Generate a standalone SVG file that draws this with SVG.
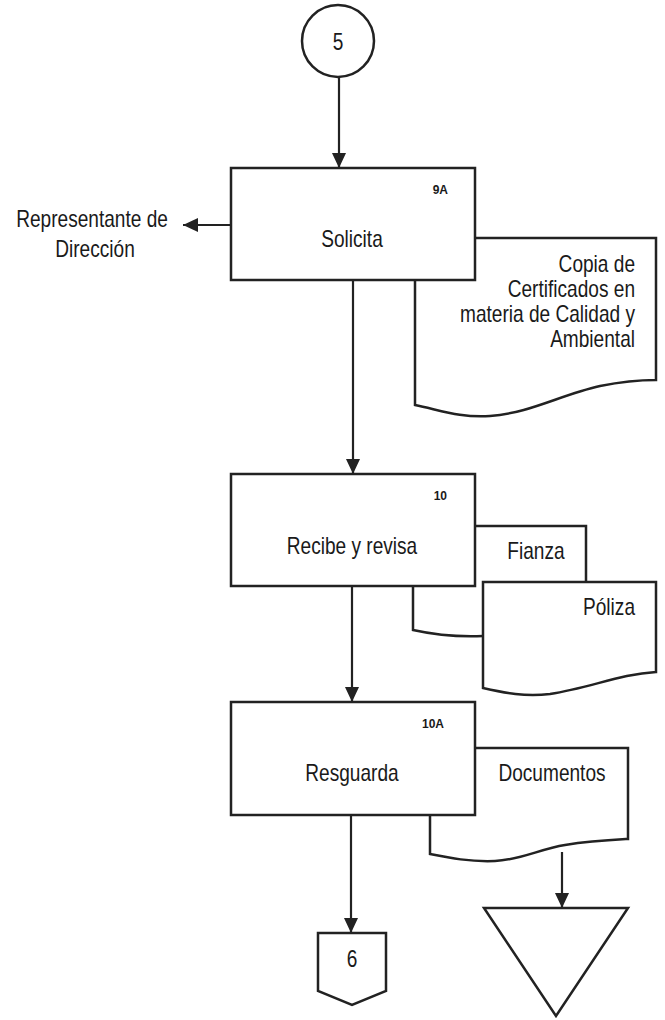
<svg xmlns="http://www.w3.org/2000/svg" width="665" height="1020" viewBox="0 0 665 1020">
<style>
.s{fill:#fff;stroke:#222;stroke-width:2.5;stroke-linejoin:miter}
.c{fill:none;stroke:#222;stroke-width:2.2}
.t{font-family:"Liberation Sans",Arial,sans-serif;font-size:23px;fill:#1a1a1a}
.n{font-family:"Liberation Sans",Arial,sans-serif;font-size:12px;font-weight:bold;fill:#1a1a1a}
</style>
<defs>
<marker id="ah" markerUnits="userSpaceOnUse" markerWidth="16" markerHeight="16" viewBox="0 0 16 16" refX="15" refY="8" orient="auto">
<path d="M0,1 L15,8 L0,15 Z" fill="#222"/>
</marker>
</defs>
<rect width="665" height="1020" fill="#fff"/>

<g id="connectors">
<line class="c" x1="339" y1="77" x2="339" y2="168" marker-end="url(#ah)"/>
<line class="c" x1="231" y1="225" x2="183" y2="225" marker-end="url(#ah)" stroke="#444"/>
<line class="c" x1="353" y1="280" x2="353" y2="474" marker-end="url(#ah)"/>
<line class="c" x1="352" y1="586" x2="352" y2="702" marker-end="url(#ah)"/>
<line class="c" x1="351" y1="815" x2="351" y2="933" marker-end="url(#ah)"/>
<line class="c" x1="562" y1="852" x2="562" y2="908" marker-end="url(#ah)"/>
</g>

<g id="start-5">
<circle class="s" cx="338" cy="41" r="36"/>
<text class="t" transform="translate(338 50) scale(0.83 1)" text-anchor="middle">5</text>
</g>

<g id="representante">
<text class="t" transform="translate(92 227) scale(0.83 1)" text-anchor="middle">Representante de</text>
<text class="t" transform="translate(95 257) scale(0.83 1)" text-anchor="middle">Dirección</text>
</g>

<g id="doc-copia">
<path class="s" d="M415,280 L415,405 C440,410 460,418 490,416 C530,413 560,395 600,386 C625,381 645,380 656,380 L656,238 L475,238"/>
<text class="t" transform="translate(635 272) scale(0.83 1)" text-anchor="end">Copia de</text>
<text class="t" transform="translate(635 297) scale(0.83 1)" text-anchor="end">Certificados en</text>
<text class="t" transform="translate(635 322) scale(0.83 1)" text-anchor="end">materia de Calidad y</text>
<text class="t" transform="translate(635 347) scale(0.83 1)" text-anchor="end">Ambiental</text>
</g>

<g id="step-9A">
<rect class="s" x="231" y="168" width="244" height="112"/>
<text class="n" x="448" y="194" text-anchor="end">9A</text>
<text class="t" transform="translate(352 247) scale(0.83 1)" text-anchor="middle">Solicita</text>
</g>

<g id="doc-fianza">
<path class="s" d="M413,586 L413,630 C440,636 460,637 483,636 L586,636 L586,526 L475,526"/>
<text class="t" transform="translate(536 559) scale(0.83 1)" text-anchor="middle">Fianza</text>
</g>

<g id="doc-poliza">
<path class="s" d="M483,582 L483,688 C505,693 525,697 550,694 C590,688 620,674 656,672 L656,582 Z"/>
<text class="t" transform="translate(635 615) scale(0.83 1)" text-anchor="end">Póliza</text>
</g>

<g id="step-10">
<rect class="s" x="231" y="474" width="244" height="112"/>
<text class="n" x="447" y="500" text-anchor="end">10</text>
<text class="t" transform="translate(352 554) scale(0.83 1)" text-anchor="middle">Recibe y revisa</text>
</g>

<g id="doc-documentos">
<path class="s" d="M430,815 L430,854 C450,858 470,862 495,861 C520,860 540,849 565,845 C590,841 610,840 628,839 L628,748 L474,748"/>
<text class="t" transform="translate(552 781) scale(0.83 1)" text-anchor="middle">Documentos</text>
</g>

<g id="step-10A">
<rect class="s" x="231" y="702" width="244" height="113"/>
<text class="n" x="444" y="728" text-anchor="end">10A</text>
<text class="t" transform="translate(352 781) scale(0.83 1)" text-anchor="middle">Resguarda</text>
</g>

<g id="archive">
<path class="s" d="M484,908 L628,908 L556,1016 Z"/>
</g>

<g id="offpage-6">
<path class="s" d="M318,933 L386,933 L386,991 L352,1005 L318,991 Z"/>
<text class="t" transform="translate(352 967) scale(0.83 1)" text-anchor="middle">6</text>
</g>
</svg>
